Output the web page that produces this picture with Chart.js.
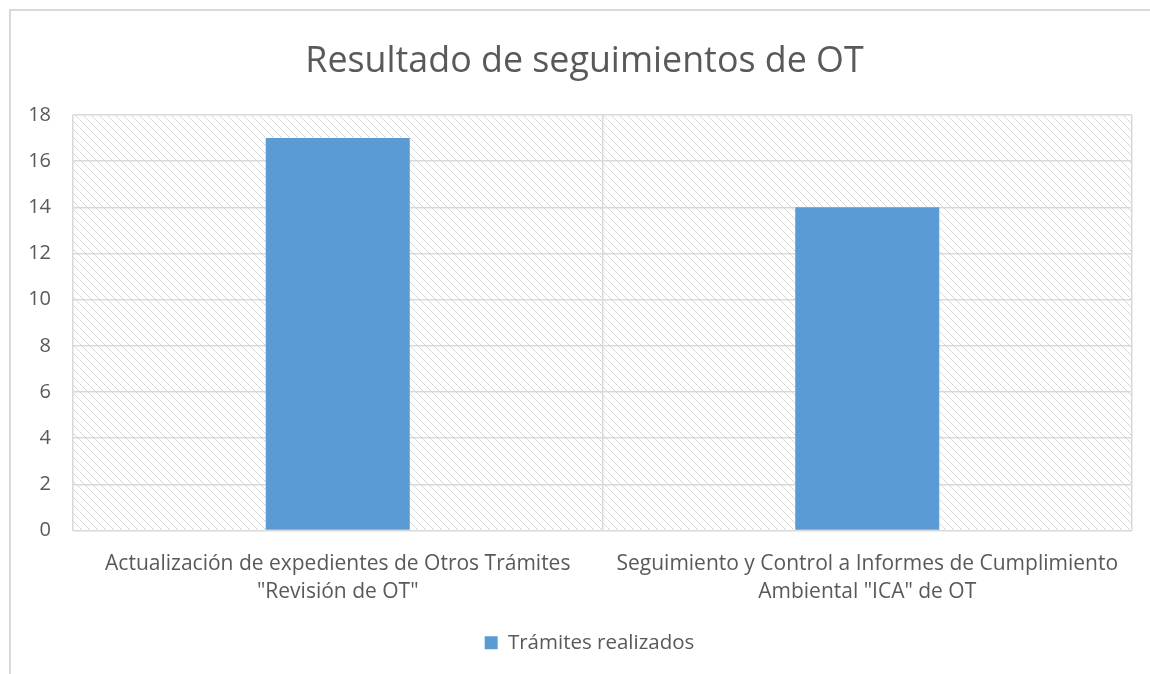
<!DOCTYPE html>
<html>
<head>
<meta charset="utf-8">
<script src="https://cdn.jsdelivr.net/npm/chart.js@4"></script>
<style>
    body { margin: 0; background: #fff; overflow: hidden; }
    #frame {
        position: absolute; left: 9px; top: 9px; width: 1200px; height: 700px;
        border: 2px solid #d9d9d9; box-sizing: border-box;
    }
    #wrap { position: absolute; left: 0; top: 0; width: 1150px; height: 674px; }
</style>
</head>
<body>
<div id="frame"></div>
<div id="wrap"><canvas id="myChart"></canvas></div>
<script>
let categories = [
    ['Actualización de expedientes de Otros Trámites', '"Revisión de OT"'],
    ['Seguimiento y Control a Informes de Cumplimiento', 'Ambiental "ICA" de OT']
];
let tramites = [17, 14];
let seriesName = 'Trámites realizados';
let chartTitle = 'Resultado de seguimientos de OT';

let textColor = '#595959';
let gridColor = '#d9d9d9';

function makeHatch() {
    let c = document.createElement('canvas');
    c.width = 8;
    c.height = 8;
    let ctx = c.getContext('2d');
    ctx.fillStyle = '#ffffff';
    ctx.fillRect(0, 0, 8, 8);
    ctx.fillStyle = '#cccccc';
    for (let i = 0; i < 8; i += 2) {
        ctx.fillRect(i, i, 1, 1);
    }
    ctx.fillStyle = '#e6e6e6';
    for (let i = 1; i < 8; i += 2) {
        ctx.fillRect(i, i, 1, 1);
    }
    return ctx.createPattern(c, 'repeat');
}

// fills the plot area with the light diagonal hatch
const hatchPlugin = {
    id: 'hatch',
    afterLayout(chart) {
        // title and legend are centred on the whole frame, not only the canvas
        if (chart.titleBlock) chart.titleBlock.left = 37;
        if (chart.legend) chart.legend.left = 47;
    },
    beforeDraw(chart) {
        let a = chart.chartArea;
        let ctx = chart.ctx;
        ctx.save();
        ctx.fillStyle = makeHatch();
        ctx.fillRect(a.left, a.top, a.right - a.left, a.bottom - a.top);
        ctx.restore();
    }
};

Chart.defaults.font.family = '"Open Sans", sans-serif';
Chart.defaults.color = textColor;

const config = {
    type: 'bar',
    data: {
        labels: categories,
        datasets: [{
            label: seriesName,
            data: tramites,
            backgroundColor: '#5b9bd5',
            barPercentage: 0.272,
            categoryPercentage: 1.0
        }]
    },
    options: {
        responsive: true,
        maintainAspectRatio: false,
        animation: false,
        layout: { padding: { left: 0, right: 18, top: 0, bottom: 11 } },
        plugins: {
            title: {
                display: true,
                text: chartTitle,
                color: textColor,
                font: { size: 35.8, weight: 'normal' },
                padding: { top: 40, bottom: 32 }
            },
            legend: {
                position: 'bottom',
                labels: {
                    color: textColor,
                    font: { size: 20.5 },
                    boxWidth: 13,
                    boxHeight: 13,
                    padding: 14
                }
            },
            tooltip: { enabled: false }
        },
        scales: {
            x: {
                grid: { color: gridColor, lineWidth: 1.5, drawTicks: false },
                border: { display: false },
                ticks: { color: textColor, font: { size: 21, lineHeight: 1.33 }, padding: 20, maxRotation: 0 },
                afterFit(scale) { scale.height = 88; }
            },
            y: {
                min: 0,
                max: 18,
                ticks: { stepSize: 2, color: textColor, font: { size: 20 }, padding: 22 },
                grid: { color: gridColor, lineWidth: 1.5, drawTicks: false },
                border: { display: false },
                afterFit(scale) { scale.width = 73; }
            }
        }
    },
    plugins: [hatchPlugin]
};

let myChart = new Chart(document.getElementById('myChart'), config);
</script>
</body>
</html>
